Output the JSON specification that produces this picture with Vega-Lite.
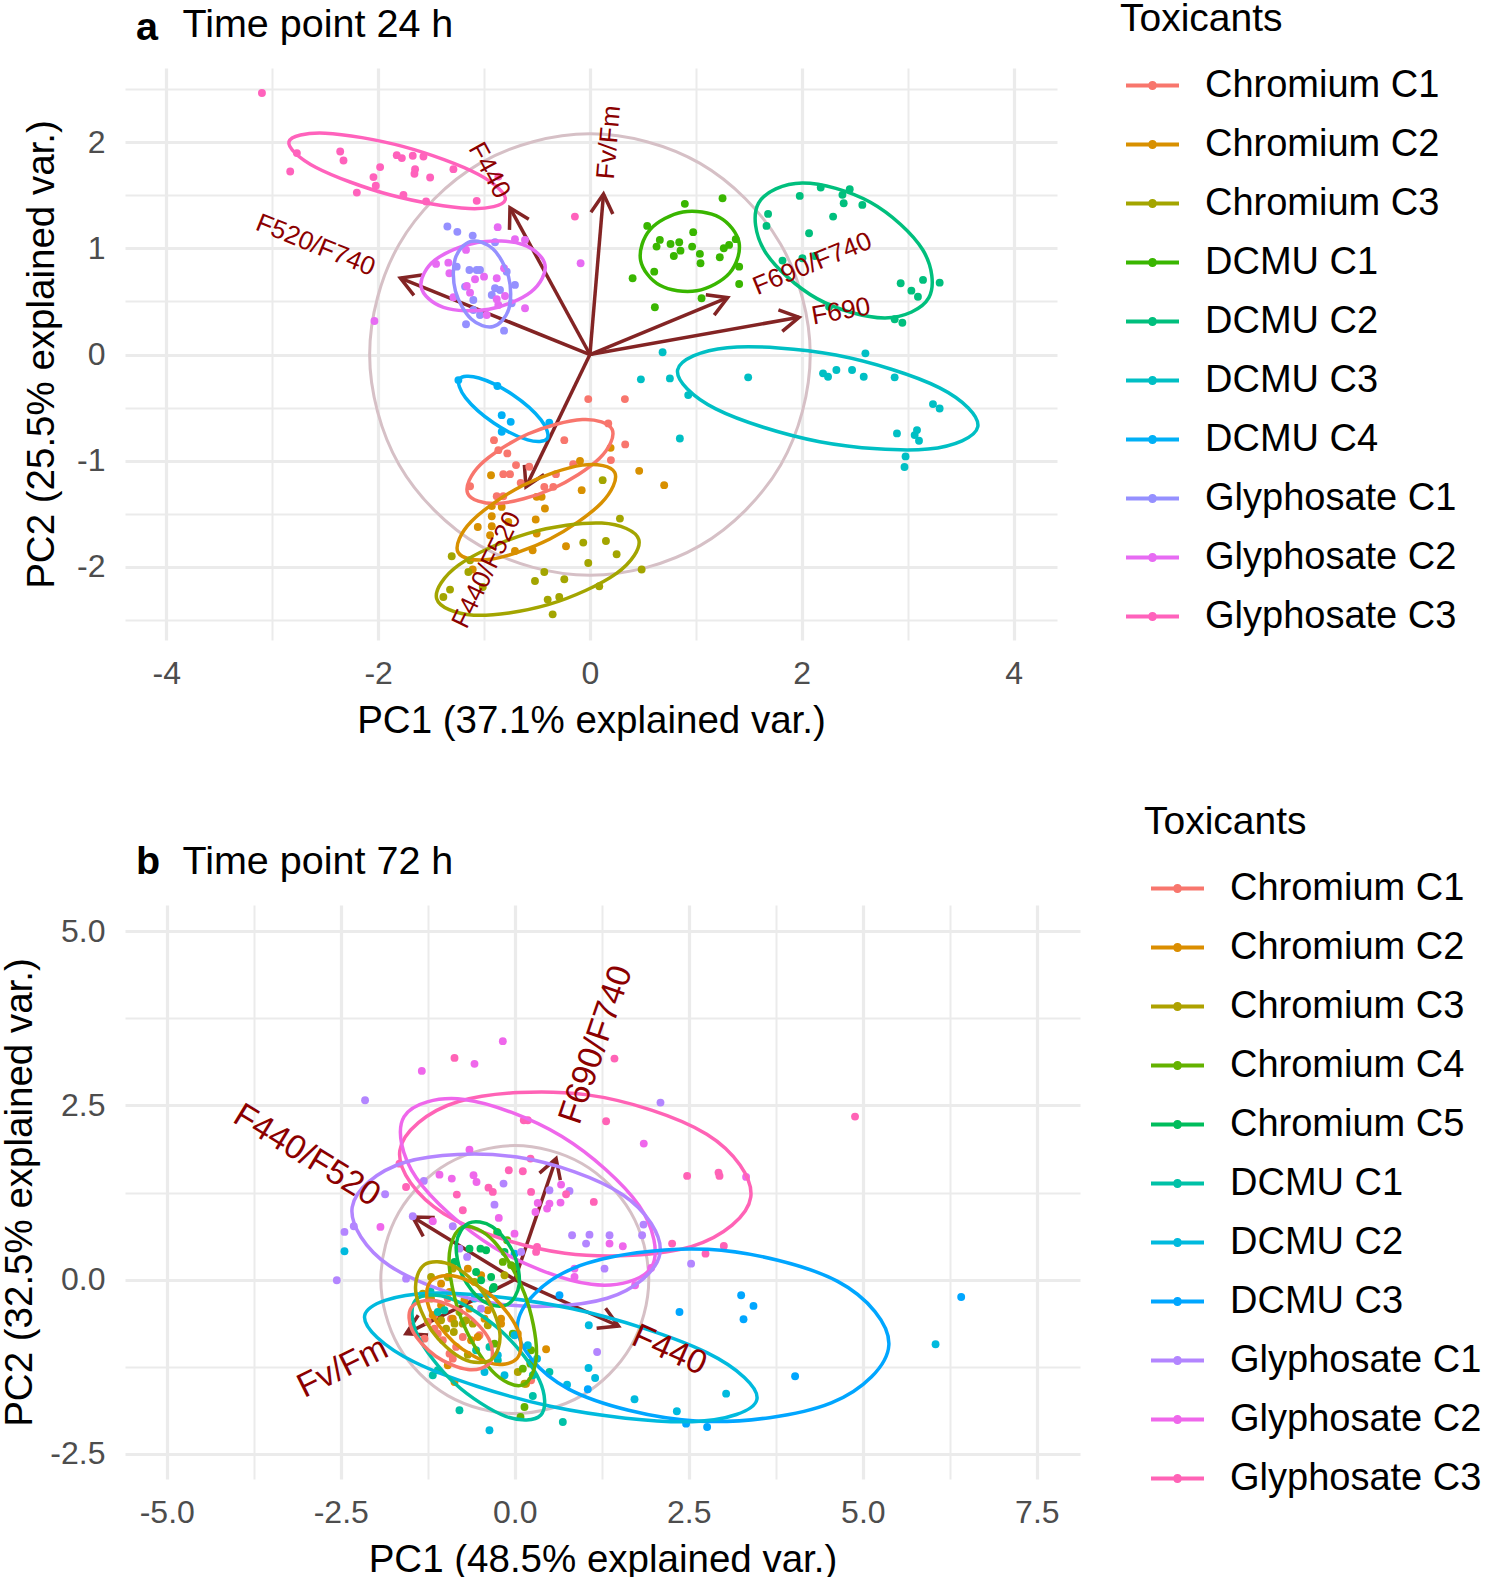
{
"$schema": "https://vega.github.io/schema/vega-lite/v6.json",
"padding": {"left": 0, "top": 0, "right": 0, "bottom": 0},
"background": "white",
"spacing": 63,
"resolve": {"scale": {"color": "independent"}, "legend": {"color": "independent"}},
"config": {
 "font": "Liberation Sans",
 "view": {"stroke": null},
 "axis": {"domain": false, "ticks": false, "grid": true, "gridColor": "#EBEBEB", "labelFontSize": 32, "labelColor": "#4D4D4D", "labelOverlap": false, "labelFlush": false, "labelBound": false, "titleFontSize": 38.5, "titleFontWeight": "normal", "titleColor": "#000000"},
 "axisX": {"labelPadding": 18, "titlePadding": 13},
 "axisY": {"labelPadding": 20},
 "title": {"anchor": "start", "frame": "group", "fontSize": 39.5, "fontWeight": "bold", "color": "#000000", "offset": -48, "dx": 11}
},
"datasets": {
 "pts_a": [
  {"g":"Chromium C1","x":-0.016,"y":-0.420},{"g":"Chromium C1","x":0.330,"y":-0.420},{"g":"Chromium C1","x":0.173,"y":-0.649},{"g":"Chromium C1","x":0.333,"y":-0.847},{"g":"Chromium C1","x":0.198,"y":-0.995},{"g":"Chromium C1","x":-0.242,"y":-0.807},{"g":"Chromium C1","x":-0.906,"y":-0.807},{"g":"Chromium C1","x":-0.865,"y":-0.901},{"g":"Chromium C1","x":-0.780,"y":-0.932},{"g":"Chromium C1","x":-0.698,"y":-1.042},{"g":"Chromium C1","x":-0.573,"y":-1.058},{"g":"Chromium C1","x":-0.818,"y":-1.127},{"g":"Chromium C1","x":-0.755,"y":-1.127},{"g":"Chromium C1","x":-0.654,"y":-1.209},{"g":"Chromium C1","x":-1.132,"y":-1.241},{"g":"Chromium C1","x":-0.321,"y":-1.127},{"g":"Chromium C1","x":-0.158,"y":-1.033},{"g":"Chromium C1","x":-0.431,"y":-1.247},{"g":"Chromium C1","x":-0.346,"y":-1.247},{"g":"Chromium C1","x":-0.880,"y":-1.335},{"g":"Chromium C1","x":-0.818,"y":-1.335},
  {"g":"Chromium C2","x":0.195,"y":-0.879},{"g":"Chromium C2","x":-0.094,"y":-1.002},{"g":"Chromium C2","x":0.465,"y":-1.096},{"g":"Chromium C2","x":0.701,"y":-1.231},{"g":"Chromium C2","x":-0.078,"y":-1.278},{"g":"Chromium C2","x":-0.934,"y":-1.137},{"g":"Chromium C2","x":-0.503,"y":-1.341},{"g":"Chromium C2","x":-0.456,"y":-1.341},{"g":"Chromium C2","x":-0.425,"y":-1.451},{"g":"Chromium C2","x":-0.927,"y":-1.429},{"g":"Chromium C2","x":-0.833,"y":-1.436},{"g":"Chromium C2","x":-0.927,"y":-1.524},{"g":"Chromium C2","x":-0.771,"y":-1.577},{"g":"Chromium C2","x":-0.512,"y":-1.555},{"g":"Chromium C2","x":-1.059,"y":-1.625},{"g":"Chromium C2","x":-0.927,"y":-1.618},{"g":"Chromium C2","x":-0.943,"y":-1.703},{"g":"Chromium C2","x":-0.503,"y":-1.687},{"g":"Chromium C2","x":-0.708,"y":-1.851},{"g":"Chromium C2","x":-0.541,"y":-1.844},{"g":"Chromium C2","x":-0.226,"y":-1.807},{"g":"Chromium C2","x":-1.107,"y":-2.026},
  {"g":"Chromium C3","x":0.120,"y":-1.184},{"g":"Chromium C3","x":0.283,"y":-1.546},{"g":"Chromium C3","x":-0.063,"y":-1.772},{"g":"Chromium C3","x":0.151,"y":-1.757},{"g":"Chromium C3","x":0.252,"y":-1.882},{"g":"Chromium C3","x":-0.016,"y":-1.964},{"g":"Chromium C3","x":0.488,"y":-2.026},{"g":"Chromium C3","x":-1.305,"y":-1.901},{"g":"Chromium C3","x":-1.132,"y":-1.939},{"g":"Chromium C3","x":-1.148,"y":-2.049},{"g":"Chromium C3","x":-1.012,"y":-2.191},{"g":"Chromium C3","x":-1.321,"y":-2.215},{"g":"Chromium C3","x":-1.384,"y":-2.285},{"g":"Chromium C3","x":-0.519,"y":-2.134},{"g":"Chromium C3","x":-0.431,"y":-2.049},{"g":"Chromium C3","x":-0.242,"y":-2.118},{"g":"Chromium C3","x":0.088,"y":-2.184},{"g":"Chromium C3","x":-0.399,"y":-2.309},{"g":"Chromium C3","x":-0.290,"y":-2.285},{"g":"Chromium C3","x":-0.352,"y":-2.448},
  {"g":"DCMU C1","x":0.896,"y":1.420},{"g":"DCMU C1","x":1.252,"y":1.473},{"g":"DCMU C1","x":0.541,"y":1.212},{"g":"DCMU C1","x":0.975,"y":1.153},{"g":"DCMU C1","x":0.660,"y":1.080},{"g":"DCMU C1","x":0.629,"y":1.017},{"g":"DCMU C1","x":0.761,"y":1.042},{"g":"DCMU C1","x":0.843,"y":1.058},{"g":"DCMU C1","x":0.855,"y":0.979},{"g":"DCMU C1","x":0.792,"y":0.929},{"g":"DCMU C1","x":0.965,"y":1.017},{"g":"DCMU C1","x":1.038,"y":0.948},{"g":"DCMU C1","x":1.044,"y":0.860},{"g":"DCMU C1","x":1.226,"y":0.917},{"g":"DCMU C1","x":1.264,"y":1.002},{"g":"DCMU C1","x":1.314,"y":1.033},{"g":"DCMU C1","x":1.377,"y":1.087},{"g":"DCMU C1","x":1.409,"y":0.828},{"g":"DCMU C1","x":1.409,"y":0.665},{"g":"DCMU C1","x":0.607,"y":0.781},{"g":"DCMU C1","x":0.403,"y":0.719},{"g":"DCMU C1","x":1.054,"y":0.530},{"g":"DCMU C1","x":0.613,"y":0.445},
  {"g":"DCMU C2","x":1.981,"y":1.495},{"g":"DCMU C2","x":2.179,"y":1.574},{"g":"DCMU C2","x":2.453,"y":1.558},{"g":"DCMU C2","x":2.384,"y":1.505},{"g":"DCMU C2","x":2.396,"y":1.426},{"g":"DCMU C2","x":2.572,"y":1.410},{"g":"DCMU C2","x":2.296,"y":1.300},{"g":"DCMU C2","x":1.682,"y":1.325},{"g":"DCMU C2","x":1.667,"y":1.212},{"g":"DCMU C2","x":2.069,"y":1.143},{"g":"DCMU C2","x":1.818,"y":0.885},{"g":"DCMU C2","x":2.006,"y":0.907},{"g":"DCMU C2","x":2.123,"y":0.929},{"g":"DCMU C2","x":2.258,"y":0.451},{"g":"DCMU C2","x":2.934,"y":0.672},{"g":"DCMU C2","x":3.035,"y":0.602},{"g":"DCMU C2","x":3.097,"y":0.545},{"g":"DCMU C2","x":3.145,"y":0.703},{"g":"DCMU C2","x":3.302,"y":0.677},{"g":"DCMU C2","x":2.877,"y":0.332},{"g":"DCMU C2","x":2.950,"y":0.300},
  {"g":"DCMU C3","x":0.686,"y":0.021},{"g":"DCMU C3","x":0.481,"y":-0.234},{"g":"DCMU C3","x":0.755,"y":-0.225},{"g":"DCMU C3","x":0.928,"y":-0.382},{"g":"DCMU C3","x":0.849,"y":-0.791},{"g":"DCMU C3","x":1.494,"y":-0.215},{"g":"DCMU C3","x":2.201,"y":-0.177},{"g":"DCMU C3","x":2.248,"y":-0.209},{"g":"DCMU C3","x":2.327,"y":-0.146},{"g":"DCMU C3","x":2.475,"y":-0.146},{"g":"DCMU C3","x":2.585,"y":-0.209},{"g":"DCMU C3","x":2.601,"y":0.011},{"g":"DCMU C3","x":2.877,"y":-0.215},{"g":"DCMU C3","x":3.239,"y":-0.467},{"g":"DCMU C3","x":3.302,"y":-0.508},{"g":"DCMU C3","x":2.899,"y":-0.743},{"g":"DCMU C3","x":3.066,"y":-0.759},{"g":"DCMU C3","x":3.088,"y":-0.712},{"g":"DCMU C3","x":3.107,"y":-0.813},{"g":"DCMU C3","x":2.980,"y":-0.960},{"g":"DCMU C3","x":2.970,"y":-1.060},
  {"g":"DCMU C4","x":-1.242,"y":-0.241},{"g":"DCMU C4","x":-0.874,"y":-0.297},{"g":"DCMU C4","x":-0.833,"y":-0.571},{"g":"DCMU C4","x":-0.748,"y":-0.634},{"g":"DCMU C4","x":-0.833,"y":-0.728},{"g":"DCMU C4","x":-0.384,"y":-0.643},
  {"g":"Glyphosate C1","x":-1.346,"y":1.206},{"g":"Glyphosate C1","x":-1.252,"y":1.156},{"g":"Glyphosate C1","x":-1.107,"y":1.121},{"g":"Glyphosate C1","x":-0.896,"y":1.058},{"g":"Glyphosate C1","x":-1.258,"y":0.828},{"g":"Glyphosate C1","x":-1.138,"y":0.797},{"g":"Glyphosate C1","x":-1.069,"y":0.797},{"g":"Glyphosate C1","x":-1.038,"y":0.797},{"g":"Glyphosate C1","x":-0.786,"y":0.781},{"g":"Glyphosate C1","x":-0.708,"y":0.656},{"g":"Glyphosate C1","x":-0.896,"y":0.625},{"g":"Glyphosate C1","x":-0.849,"y":0.608},{"g":"Glyphosate C1","x":-0.927,"y":0.561},{"g":"Glyphosate C1","x":-1.101,"y":0.514},{"g":"Glyphosate C1","x":-0.739,"y":0.483},{"g":"Glyphosate C1","x":-1.101,"y":0.420},{"g":"Glyphosate C1","x":-1.038,"y":0.373},{"g":"Glyphosate C1","x":-1.170,"y":0.285},{"g":"Glyphosate C1","x":-0.811,"y":0.225},{"g":"Glyphosate C1","x":-1.179,"y":0.640},
  {"g":"Glyphosate C2","x":-0.871,"y":1.200},{"g":"Glyphosate C2","x":-0.708,"y":1.087},{"g":"Glyphosate C2","x":-0.613,"y":1.080},{"g":"Glyphosate C2","x":-1.170,"y":0.986},{"g":"Glyphosate C2","x":-1.453,"y":0.854},{"g":"Glyphosate C2","x":-1.337,"y":0.866},{"g":"Glyphosate C2","x":-1.327,"y":0.766},{"g":"Glyphosate C2","x":-1.085,"y":0.709},{"g":"Glyphosate C2","x":-1.000,"y":0.734},{"g":"Glyphosate C2","x":-0.880,"y":0.719},{"g":"Glyphosate C2","x":-0.811,"y":0.813},{"g":"Glyphosate C2","x":-1.163,"y":0.646},{"g":"Glyphosate C2","x":-1.132,"y":0.583},{"g":"Glyphosate C2","x":-1.289,"y":0.540},{"g":"Glyphosate C2","x":-0.880,"y":0.521},{"g":"Glyphosate C2","x":-0.802,"y":0.552},{"g":"Glyphosate C2","x":-0.865,"y":0.467},{"g":"Glyphosate C2","x":-0.975,"y":0.373},{"g":"Glyphosate C2","x":-0.613,"y":0.436},{"g":"Glyphosate C2","x":-2.035,"y":0.316},{"g":"Glyphosate C2","x":-0.088,"y":0.860},
  {"g":"Glyphosate C3","x":-3.097,"y":2.464},{"g":"Glyphosate C3","x":-2.767,"y":1.898},{"g":"Glyphosate C3","x":-2.830,"y":1.725},{"g":"Glyphosate C3","x":-2.358,"y":1.913},{"g":"Glyphosate C3","x":-2.327,"y":1.828},{"g":"Glyphosate C3","x":-2.201,"y":1.526},{"g":"Glyphosate C3","x":-1.981,"y":1.766},{"g":"Glyphosate C3","x":-2.044,"y":1.672},{"g":"Glyphosate C3","x":-2.022,"y":1.590},{"g":"Glyphosate C3","x":-1.824,"y":1.879},{"g":"Glyphosate C3","x":-1.776,"y":1.851},{"g":"Glyphosate C3","x":-1.673,"y":1.873},{"g":"Glyphosate C3","x":-1.572,"y":1.866},{"g":"Glyphosate C3","x":-1.651,"y":1.747},{"g":"Glyphosate C3","x":-1.657,"y":1.703},{"g":"Glyphosate C3","x":-1.509,"y":1.668},{"g":"Glyphosate C3","x":-1.761,"y":1.505},{"g":"Glyphosate C3","x":-1.547,"y":1.442},{"g":"Glyphosate C3","x":-1.289,"y":1.747},{"g":"Glyphosate C3","x":-1.069,"y":1.448},{"g":"Glyphosate C3","x":-0.865,"y":1.677},{"g":"Glyphosate C3","x":-0.142,"y":1.300}
 ],
 "ell_a": [
  {"g":"Glyphosate C3","i":0,"x":-0.800,"y":1.457},{"g":"Glyphosate C3","i":1,"x":-1.056,"y":1.699},{"g":"Glyphosate C3","i":2,"x":-1.760,"y":1.959},{"g":"Glyphosate C3","i":3,"x":-2.500,"y":2.086},{"g":"Glyphosate C3","i":4,"x":-2.842,"y":2.005},{"g":"Glyphosate C3","i":5,"x":-2.586,"y":1.763},{"g":"Glyphosate C3","i":6,"x":-1.882,"y":1.503},{"g":"Glyphosate C3","i":7,"x":-1.142,"y":1.376},
  {"g":"Glyphosate C2","i":0,"x":-0.424,"y":0.844},{"g":"Glyphosate C2","i":1,"x":-0.635,"y":1.037},{"g":"Glyphosate C2","i":2,"x":-1.065,"y":1.056},{"g":"Glyphosate C2","i":3,"x":-1.462,"y":0.891},{"g":"Glyphosate C2","i":4,"x":-1.594,"y":0.638},{"g":"Glyphosate C2","i":5,"x":-1.383,"y":0.445},{"g":"Glyphosate C2","i":6,"x":-0.953,"y":0.426},{"g":"Glyphosate C2","i":7,"x":-0.556,"y":0.591},
  {"g":"Glyphosate C1","i":0,"x":-1.126,"y":1.066},{"g":"Glyphosate C1","i":1,"x":-1.273,"y":0.901},{"g":"Glyphosate C1","i":2,"x":-1.270,"y":0.598},{"g":"Glyphosate C1","i":3,"x":-1.121,"y":0.334},{"g":"Glyphosate C1","i":4,"x":-0.912,"y":0.264},{"g":"Glyphosate C1","i":5,"x":-0.766,"y":0.429},{"g":"Glyphosate C1","i":6,"x":-0.768,"y":0.732},{"g":"Glyphosate C1","i":7,"x":-0.917,"y":0.996},
  {"g":"DCMU C1","i":0,"x":1.408,"y":1.054},{"g":"DCMU C1","i":1,"x":1.225,"y":1.292},{"g":"DCMU C1","i":2,"x":0.878,"y":1.343},{"g":"DCMU C1","i":3,"x":0.568,"y":1.177},{"g":"DCMU C1","i":4,"x":0.478,"y":0.890},{"g":"DCMU C1","i":5,"x":0.661,"y":0.652},{"g":"DCMU C1","i":6,"x":1.008,"y":0.601},{"g":"DCMU C1","i":7,"x":1.318,"y":0.767},
  {"g":"DCMU C2","i":0,"x":3.200,"y":0.536},{"g":"DCMU C2","i":1,"x":3.142,"y":0.987},{"g":"DCMU C2","i":2,"x":2.648,"y":1.435},{"g":"DCMU C2","i":3,"x":2.006,"y":1.617},{"g":"DCMU C2","i":4,"x":1.592,"y":1.427},{"g":"DCMU C2","i":5,"x":1.650,"y":0.975},{"g":"DCMU C2","i":6,"x":2.144,"y":0.527},{"g":"DCMU C2","i":7,"x":2.787,"y":0.345},
  {"g":"DCMU C3","i":0,"x":3.662,"y":-0.681},{"g":"DCMU C3","i":1,"x":3.302,"y":-0.314},{"g":"DCMU C3","i":2,"x":2.322,"y":-0.005},{"g":"DCMU C3","i":3,"x":1.297,"y":0.065},{"g":"DCMU C3","i":4,"x":0.828,"y":-0.145},{"g":"DCMU C3","i":5,"x":1.188,"y":-0.512},{"g":"DCMU C3","i":6,"x":2.168,"y":-0.821},{"g":"DCMU C3","i":7,"x":3.193,"y":-0.891},
  {"g":"DCMU C4","i":0,"x":-0.404,"y":-0.792},{"g":"DCMU C4","i":1,"x":-0.462,"y":-0.616},{"g":"DCMU C4","i":2,"x":-0.729,"y":-0.379},{"g":"DCMU C4","i":3,"x":-1.048,"y":-0.221},{"g":"DCMU C4","i":4,"x":-1.233,"y":-0.232},{"g":"DCMU C4","i":5,"x":-1.174,"y":-0.408},{"g":"DCMU C4","i":6,"x":-0.908,"y":-0.645},{"g":"DCMU C4","i":7,"x":-0.588,"y":-0.804},
  {"g":"Chromium C1","i":0,"x":0.210,"y":-0.707},{"g":"Chromium C1","i":1,"x":-0.071,"y":-0.612},{"g":"Chromium C1","i":2,"x":-0.586,"y":-0.749},{"g":"Chromium C1","i":3,"x":-1.035,"y":-1.038},{"g":"Chromium C1","i":4,"x":-1.154,"y":-1.309},{"g":"Chromium C1","i":5,"x":-0.873,"y":-1.404},{"g":"Chromium C1","i":6,"x":-0.358,"y":-1.267},{"g":"Chromium C1","i":7,"x":0.091,"y":-0.978},
  {"g":"Chromium C2","i":0,"x":0.234,"y":-1.111},{"g":"Chromium C2","i":1,"x":-0.073,"y":-1.042},{"g":"Chromium C2","i":2,"x":-0.634,"y":-1.234},{"g":"Chromium C2","i":3,"x":-1.120,"y":-1.573},{"g":"Chromium C2","i":4,"x":-1.246,"y":-1.862},{"g":"Chromium C2","i":5,"x":-0.939,"y":-1.930},{"g":"Chromium C2","i":6,"x":-0.378,"y":-1.738},{"g":"Chromium C2","i":7,"x":0.108,"y":-1.399},
  {"g":"Chromium C3","i":0,"x":0.461,"y":-1.743},{"g":"Chromium C3","i":1,"x":0.112,"y":-1.588},{"g":"Chromium C3","i":2,"x":-0.591,"y":-1.687},{"g":"Chromium C3","i":3,"x":-1.237,"y":-1.982},{"g":"Chromium C3","i":4,"x":-1.447,"y":-2.301},{"g":"Chromium C3","i":5,"x":-1.098,"y":-2.456},{"g":"Chromium C3","i":6,"x":-0.395,"y":-2.357},{"g":"Chromium C3","i":7,"x":0.251,"y":-2.062}
 ],
 "circ_a": [
  {"i":0,"x":2.08,"y":0},{"i":1,"x":1.801,"y":1.04},{"i":2,"x":1.04,"y":1.801},{"i":3,"x":0,"y":2.08},{"i":4,"x":-1.04,"y":1.801},{"i":5,"x":-1.801,"y":1.04},{"i":6,"x":-2.08,"y":0},{"i":7,"x":-1.801,"y":-1.04},{"i":8,"x":-1.04,"y":-1.801},{"i":9,"x":0,"y":-2.08},{"i":10,"x":1.04,"y":-1.801},{"i":11,"x":1.801,"y":-1.04}
 ],
 "arr_a": [
  {"v":"Fv/Fm","x":0.128,"y":1.512,"lx":0.18,"ly":2.0},
  {"v":"F440","x":-0.755,"y":1.382,"lx":-0.95,"ly":1.735},
  {"v":"F520/F740","x":-1.79,"y":0.72,"lx":-2.59,"ly":1.03},
  {"v":"F690/F740","x":1.30,"y":0.536,"lx":2.10,"ly":0.855},
  {"v":"F690","x":1.975,"y":0.351,"lx":2.37,"ly":0.405},
  {"v":"F440/F520","x":-0.604,"y":-1.247,"lx":-0.975,"ly":-2.03}
 ],
 "pts_b": [
  {"g":"Chromium C1","x":-1.154,"y":-0.513},{"g":"Chromium C1","x":-1.106,"y":-0.777},{"g":"Chromium C1","x":-0.963,"y":-0.274},{"g":"Chromium C1","x":-0.915,"y":-0.562},{"g":"Chromium C1","x":-1.034,"y":-0.872},{"g":"Chromium C1","x":-1.297,"y":-0.849},{"g":"Chromium C1","x":-0.938,"y":-1.065},{"g":"Chromium C1","x":-0.891,"y":-1.136},{"g":"Chromium C1","x":-0.747,"y":-0.825},{"g":"Chromium C1","x":-0.507,"y":-0.800},{"g":"Chromium C1","x":0.234,"y":-1.447},{"g":"Chromium C1","x":-0.843,"y":-0.968},{"g":"Chromium C1","x":-1.154,"y":-0.705},{"g":"Chromium C1","x":-1.250,"y":-0.609},
  {"g":"Chromium C2","x":-0.675,"y":0.157},{"g":"Chromium C2","x":-0.484,"y":0.062},{"g":"Chromium C2","x":-0.723,"y":-0.297},{"g":"Chromium C2","x":-0.938,"y":-0.178},{"g":"Chromium C2","x":-1.178,"y":-0.513},{"g":"Chromium C2","x":-0.435,"y":-0.562},{"g":"Chromium C2","x":-0.197,"y":-0.562},{"g":"Chromium C2","x":-0.197,"y":-0.634},{"g":"Chromium C2","x":-0.628,"y":-0.872},{"g":"Chromium C2","x":-0.532,"y":-0.825},{"g":"Chromium C2","x":0.043,"y":-0.777},{"g":"Chromium C2","x":-0.963,"y":-1.231},{"g":"Chromium C2","x":-0.866,"y":-1.471},{"g":"Chromium C2","x":0.162,"y":-1.496},{"g":"Chromium C2","x":0.450,"y":-1.002},{"g":"Chromium C2","x":-0.388,"y":-0.441},{"g":"Chromium C2","x":-0.651,"y":-0.418},{"g":"Chromium C2","x":-1.059,"y":-0.369},{"g":"Chromium C2","x":-0.891,"y":-0.562},{"g":"Chromium C2","x":-1.059,"y":-0.059},
  {"g":"Chromium C3","x":-1.322,"y":-0.203},{"g":"Chromium C3","x":-1.203,"y":-0.274},{"g":"Chromium C3","x":-0.891,"y":0.157},{"g":"Chromium C3","x":-0.963,"y":0.037},{"g":"Chromium C3","x":-0.579,"y":-0.034},{"g":"Chromium C3","x":-0.148,"y":0.062},{"g":"Chromium C3","x":-1.059,"y":-0.585},{"g":"Chromium C3","x":-0.987,"y":-0.705},{"g":"Chromium C3","x":-0.866,"y":-0.634},{"g":"Chromium C3","x":-0.747,"y":-0.634},{"g":"Chromium C3","x":-0.700,"y":-0.585},{"g":"Chromium C3","x":-0.795,"y":-0.466},{"g":"Chromium C3","x":-0.603,"y":-0.634},{"g":"Chromium C3","x":-0.388,"y":-0.657},{"g":"Chromium C3","x":-0.876,"y":-0.753},{"g":"Chromium C3","x":-0.675,"y":-1.079},{"g":"Chromium C3","x":0.043,"y":-1.328},{"g":"Chromium C3","x":0.225,"y":-1.194},{"g":"Chromium C3","x":0.139,"y":-1.496},{"g":"Chromium C3","x":-1.203,"y":0.037},
  {"g":"Chromium C4","x":-0.254,"y":0.684},{"g":"Chromium C4","x":-0.111,"y":0.565},{"g":"Chromium C4","x":-0.004,"y":0.181},{"g":"Chromium C4","x":-0.172,"y":0.253},{"g":"Chromium C4","x":-0.053,"y":0.205},{"g":"Chromium C4","x":0.234,"y":-1.016},{"g":"Chromium C4","x":0.115,"y":-1.280},{"g":"Chromium C4","x":0.139,"y":-1.830},{"g":"Chromium C4","x":0.082,"y":-1.974},{"g":"Chromium C4","x":-0.292,"y":-0.921},{"g":"Chromium C4","x":-0.029,"y":-0.777},{"g":"Chromium C4","x":0.225,"y":-1.208},
  {"g":"Chromium C5","x":-0.493,"y":0.444},{"g":"Chromium C5","x":-0.412,"y":0.421},{"g":"Chromium C5","x":-0.244,"y":0.670},{"g":"Chromium C5","x":-0.866,"y":0.253},{"g":"Chromium C5","x":-0.340,"y":0.037},{"g":"Chromium C5","x":-0.316,"y":-0.131},{"g":"Chromium C5","x":-0.556,"y":0.109},{"g":"Chromium C5","x":-0.651,"y":0.444},{"g":"Chromium C5","x":-0.484,"y":-0.010},{"g":"Chromium C5","x":-0.148,"y":0.397},{"g":"Chromium C5","x":-0.302,"y":-0.106},
  {"g":"DCMU C1","x":-1.178,"y":-1.375},{"g":"DCMU C1","x":-1.106,"y":-1.303},{"g":"DCMU C1","x":-0.795,"y":-1.878},{"g":"DCMU C1","x":0.259,"y":-1.672},{"g":"DCMU C1","x":0.498,"y":-1.328},{"g":"DCMU C1","x":0.690,"y":-2.046},{"g":"DCMU C1","x":-0.556,"y":-1.016},{"g":"DCMU C1","x":-0.364,"y":-0.968},{"g":"DCMU C1","x":-1.106,"y":-0.466},{"g":"DCMU C1","x":-1.211,"y":-0.168},{"g":"DCMU C1","x":-1.010,"y":-0.441},{"g":"DCMU C1","x":-0.244,"y":-1.159},{"g":"DCMU C1","x":0.259,"y":-1.375},
  {"g":"DCMU C2","x":1.063,"y":-0.657},{"g":"DCMU C2","x":1.059,"y":-1.270},{"g":"DCMU C2","x":1.154,"y":-1.414},{"g":"DCMU C2","x":0.751,"y":-1.510},{"g":"DCMU C2","x":1.720,"y":-1.720},{"g":"DCMU C2","x":2.328,"y":-1.892},{"g":"DCMU C2","x":3.036,"y":-1.639},{"g":"DCMU C2","x":6.045,"y":-0.930},{"g":"DCMU C2","x":0.320,"y":-1.136},{"g":"DCMU C2","x":0.187,"y":-0.944},{"g":"DCMU C2","x":-0.148,"y":-1.375},{"g":"DCMU C2","x":-2.447,"y":0.407},{"g":"DCMU C2","x":-0.244,"y":-1.088},{"g":"DCMU C2","x":-0.435,"y":-1.328},{"g":"DCMU C2","x":-0.364,"y":-2.165},{"g":"DCMU C2","x":-0.579,"y":-0.274},{"g":"DCMU C2","x":-0.004,"y":-0.800},
  {"g":"DCMU C3","x":3.252,"y":-0.226},{"g":"DCMU C3","x":3.429,"y":-0.379},{"g":"DCMU C3","x":3.286,"y":-0.570},{"g":"DCMU C3","x":2.366,"y":-0.466},{"g":"DCMU C3","x":6.413,"y":-0.250},{"g":"DCMU C3","x":4.027,"y":-1.389},{"g":"DCMU C3","x":2.461,"y":-2.070},{"g":"DCMU C3","x":2.763,"y":-2.118},{"g":"DCMU C3","x":1.049,"y":-1.576},{"g":"DCMU C3","x":0.642,"y":-0.226},{"g":"DCMU C3","x":-0.004,"y":0.372},
  {"g":"Glyphosate C1","x":-2.151,"y":2.576},{"g":"Glyphosate C1","x":2.093,"y":2.542},{"g":"Glyphosate C1","x":-0.162,"y":1.378},{"g":"Glyphosate C1","x":0.498,"y":1.283},{"g":"Glyphosate C1","x":0.786,"y":1.273},{"g":"Glyphosate C1","x":-0.292,"y":1.076},{"g":"Glyphosate C1","x":-1.307,"y":1.417},{"g":"Glyphosate C1","x":-1.863,"y":1.225},{"g":"Glyphosate C1","x":-1.466,"y":0.909},{"g":"Glyphosate C1","x":-2.313,"y":0.766},{"g":"Glyphosate C1","x":-2.447,"y":0.684},{"g":"Glyphosate C1","x":-0.891,"y":0.766},{"g":"Glyphosate C1","x":0.823,"y":0.636},{"g":"Glyphosate C1","x":1.073,"y":0.645},{"g":"Glyphosate C1","x":1.024,"y":0.516},{"g":"Glyphosate C1","x":1.361,"y":0.636},{"g":"Glyphosate C1","x":1.849,"y":0.789},{"g":"Glyphosate C1","x":1.829,"y":0.636},{"g":"Glyphosate C1","x":-0.795,"y":0.444},{"g":"Glyphosate C1","x":-0.685,"y":0.325},{"g":"Glyphosate C1","x":0.091,"y":0.397},{"g":"Glyphosate C1","x":1.289,"y":0.157},{"g":"Glyphosate C1","x":2.533,"y":0.228},{"g":"Glyphosate C1","x":-1.562,"y":0.013},{"g":"Glyphosate C1","x":-2.557,"y":-0.010},{"g":"Glyphosate C1","x":1.183,"y":-1.040},{"g":"Glyphosate C1","x":-0.484,"y":-0.418},
  {"g":"Glyphosate C2","x":-0.172,"y":3.424},{"g":"Glyphosate C2","x":-0.579,"y":3.098},{"g":"Glyphosate C2","x":-1.336,"y":2.997},{"g":"Glyphosate C2","x":1.853,"y":1.953},{"g":"Glyphosate C2","x":-0.651,"y":1.866},{"g":"Glyphosate C2","x":3.323,"y":1.474},{"g":"Glyphosate C2","x":-1.082,"y":1.507},{"g":"Glyphosate C2","x":-0.905,"y":1.450},{"g":"Glyphosate C2","x":-0.593,"y":1.499},{"g":"Glyphosate C2","x":-0.550,"y":1.402},{"g":"Glyphosate C2","x":0.665,"y":1.364},{"g":"Glyphosate C2","x":0.330,"y":1.101},{"g":"Glyphosate C2","x":0.498,"y":1.091},{"g":"Glyphosate C2","x":0.297,"y":0.971},{"g":"Glyphosate C2","x":0.464,"y":1.019},{"g":"Glyphosate C2","x":0.657,"y":1.105},{"g":"Glyphosate C2","x":-0.230,"y":0.885},{"g":"Glyphosate C2","x":-1.178,"y":0.838},{"g":"Glyphosate C2","x":-1.930,"y":0.756},{"g":"Glyphosate C2","x":-0.004,"y":0.659},{"g":"Glyphosate C2","x":1.361,"y":0.516},{"g":"Glyphosate C2","x":1.552,"y":0.478},{"g":"Glyphosate C2","x":0.858,"y":0.157},{"g":"Glyphosate C2","x":0.858,"y":0.037},{"g":"Glyphosate C2","x":1.958,"y":0.167},{"g":"Glyphosate C2","x":1.728,"y":-0.082},
  {"g":"Glyphosate C3","x":-0.866,"y":3.184},{"g":"Glyphosate C3","x":1.432,"y":3.174},{"g":"Glyphosate C3","x":0.129,"y":2.289},{"g":"Glyphosate C3","x":0.187,"y":2.289},{"g":"Glyphosate C3","x":1.312,"y":2.274},{"g":"Glyphosate C3","x":0.226,"y":1.737},{"g":"Glyphosate C3","x":2.476,"y":1.489},{"g":"Glyphosate C3","x":2.927,"y":1.536},{"g":"Glyphosate C3","x":2.941,"y":1.489},{"g":"Glyphosate C3","x":-0.086,"y":1.570},{"g":"Glyphosate C3","x":0.115,"y":1.556},{"g":"Glyphosate C3","x":-0.378,"y":1.320},{"g":"Glyphosate C3","x":-0.316,"y":1.259},{"g":"Glyphosate C3","x":-0.833,"y":1.220},{"g":"Glyphosate C3","x":0.234,"y":1.259},{"g":"Glyphosate C3","x":0.737,"y":1.225},{"g":"Glyphosate C3","x":1.135,"y":1.115},{"g":"Glyphosate C3","x":-0.747,"y":0.996},{"g":"Glyphosate C3","x":0.320,"y":0.468},{"g":"Glyphosate C3","x":0.306,"y":0.397},{"g":"Glyphosate C3","x":2.260,"y":0.516},{"g":"Glyphosate C3","x":2.740,"y":0.372},{"g":"Glyphosate C3","x":3.003,"y":0.483},{"g":"Glyphosate C3","x":-1.562,"y":1.330},{"g":"Glyphosate C3","x":-1.657,"y":1.665},{"g":"Glyphosate C3","x":4.888,"y":2.341}
 ],
 "ell_b": [
  {"g":"Glyphosate C3","i":0,"x":3.390,"y":1.185},{"g":"Glyphosate C3","i":1,"x":2.758,"y":2.088},{"g":"Glyphosate C3","i":2,"x":1.019,"y":2.656},{"g":"Glyphosate C3","i":3,"x":-0.808,"y":2.557},{"g":"Glyphosate C3","i":4,"x":-1.652,"y":1.849},{"g":"Glyphosate C3","i":5,"x":-1.020,"y":0.946},{"g":"Glyphosate C3","i":6,"x":0.719,"y":0.378},{"g":"Glyphosate C3","i":7,"x":2.546,"y":0.477},
  {"g":"Glyphosate C2","i":0,"x":1.964,"y":0.178},{"g":"Glyphosate C2","i":1,"x":1.787,"y":1.059},{"g":"Glyphosate C2","i":2,"x":0.672,"y":2.057},{"g":"Glyphosate C2","i":3,"x":-0.727,"y":2.587},{"g":"Glyphosate C2","i":4,"x":-1.590,"y":2.340},{"g":"Glyphosate C2","i":5,"x":-1.413,"y":1.459},{"g":"Glyphosate C2","i":6,"x":-0.298,"y":0.461},{"g":"Glyphosate C2","i":7,"x":1.101,"y":-0.069},
  {"g":"Glyphosate C1","i":0,"x":2.086,"y":0.378},{"g":"Glyphosate C1","i":1,"x":1.550,"y":1.218},{"g":"Glyphosate C1","i":2,"x":0.032,"y":1.759},{"g":"Glyphosate C1","i":3,"x":-1.577,"y":1.685},{"g":"Glyphosate C1","i":4,"x":-2.336,"y":1.039},{"g":"Glyphosate C1","i":5,"x":-1.800,"y":0.198},{"g":"Glyphosate C1","i":6,"x":-0.282,"y":-0.343},{"g":"Glyphosate C1","i":7,"x":1.327,"y":-0.269},
  {"g":"DCMU C3","i":0,"x":5.374,"y":-0.940},{"g":"DCMU C3","i":1,"x":4.638,"y":-0.026},{"g":"DCMU C3","i":2,"x":2.771,"y":0.434},{"g":"DCMU C3","i":3,"x":0.865,"y":0.172},{"g":"DCMU C3","i":4,"x":0.038,"y":-0.660},{"g":"DCMU C3","i":5,"x":0.774,"y":-1.574},{"g":"DCMU C3","i":6,"x":2.641,"y":-2.034},{"g":"DCMU C3","i":7,"x":4.547,"y":-1.772},
  {"g":"DCMU C2","i":0,"x":3.478,"y":-1.723},{"g":"DCMU C2","i":1,"x":2.759,"y":-1.050},{"g":"DCMU C2","i":2,"x":0.812,"y":-0.417},{"g":"DCMU C2","i":3,"x":-1.225,"y":-0.196},{"g":"DCMU C2","i":4,"x":-2.156,"y":-0.515},{"g":"DCMU C2","i":5,"x":-1.437,"y":-1.188},{"g":"DCMU C2","i":6,"x":0.511,"y":-1.821},{"g":"DCMU C2","i":7,"x":2.547,"y":-2.042},
  {"g":"DCMU C1","i":0,"x":0.375,"y":-1.946},{"g":"DCMU C1","i":1,"x":0.352,"y":-1.442},{"g":"DCMU C1","i":2,"x":-0.184,"y":-0.749},{"g":"DCMU C1","i":3,"x":-0.919,"y":-0.273},{"g":"DCMU C1","i":4,"x":-1.423,"y":-0.293},{"g":"DCMU C1","i":5,"x":-1.400,"y":-0.796},{"g":"DCMU C1","i":6,"x":-0.865,"y":-1.489},{"g":"DCMU C1","i":7,"x":-0.130,"y":-1.965},
  {"g":"Chromium C4","i":0,"x":0.115,"y":-1.514},{"g":"Chromium C4","i":1,"x":0.312,"y":-1.059},{"g":"Chromium C4","i":2,"x":0.141,"y":-0.205},{"g":"Chromium C4","i":3,"x":-0.298,"y":0.546},{"g":"Chromium C4","i":4,"x":-0.747,"y":0.756},{"g":"Chromium C4","i":5,"x":-0.944,"y":0.301},{"g":"Chromium C4","i":6,"x":-0.773,"y":-0.553},{"g":"Chromium C4","i":7,"x":-0.334,"y":-1.304},
  {"g":"Chromium C5","i":0,"x":-0.115,"y":-0.362},{"g":"Chromium C5","i":1,"x":0.063,"y":-0.071},{"g":"Chromium C5","i":2,"x":-0.024,"y":0.394},{"g":"Chromium C5","i":3,"x":-0.324,"y":0.759},{"g":"Chromium C5","i":4,"x":-0.661,"y":0.810},{"g":"Chromium C5","i":5,"x":-0.839,"y":0.519},{"g":"Chromium C5","i":6,"x":-0.752,"y":0.054},{"g":"Chromium C5","i":7,"x":-0.452,"y":-0.311},
  {"g":"Chromium C2","i":0,"x":0.030,"y":-1.137},{"g":"Chromium C2","i":1,"x":0.053,"y":-0.748},{"g":"Chromium C2","i":2,"x":-0.301,"y":-0.260},{"g":"Chromium C2","i":3,"x":-0.823,"y":0.041},{"g":"Chromium C2","i":4,"x":-1.208,"y":-0.023},{"g":"Chromium C2","i":5,"x":-1.231,"y":-0.412},{"g":"Chromium C2","i":6,"x":-0.877,"y":-0.900},{"g":"Chromium C2","i":7,"x":-0.355,"y":-1.201},
  {"g":"Chromium C1","i":0,"x":-0.355,"y":-1.192},{"g":"Chromium C1","i":1,"x":-0.369,"y":-0.859},{"g":"Chromium C1","i":2,"x":-0.706,"y":-0.490},{"g":"Chromium C1","i":3,"x":-1.168,"y":-0.300},{"g":"Chromium C1","i":4,"x":-1.485,"y":-0.400},{"g":"Chromium C1","i":5,"x":-1.471,"y":-0.733},{"g":"Chromium C1","i":6,"x":-1.135,"y":-1.102},{"g":"Chromium C1","i":7,"x":-0.672,"y":-1.293},
  {"g":"Chromium C3","i":0,"x":-0.341,"y":-1.150},{"g":"Chromium C3","i":1,"x":-0.215,"y":-0.764},{"g":"Chromium C3","i":2,"x":-0.442,"y":-0.204},{"g":"Chromium C3","i":3,"x":-0.890,"y":0.201},{"g":"Chromium C3","i":4,"x":-1.297,"y":0.214},{"g":"Chromium C3","i":5,"x":-1.423,"y":-0.172},{"g":"Chromium C3","i":6,"x":-1.196,"y":-0.732},{"g":"Chromium C3","i":7,"x":-0.748,"y":-1.137}
 ],
 "circ_b": [
  {"i":0,"x":1.925,"y":0},{"i":1,"x":1.667,"y":0.963},{"i":2,"x":0.963,"y":1.667},{"i":3,"x":0,"y":1.925},{"i":4,"x":-0.963,"y":1.667},{"i":5,"x":-1.667,"y":0.963},{"i":6,"x":-1.925,"y":0},{"i":7,"x":-1.667,"y":-0.963},{"i":8,"x":-0.963,"y":-1.667},{"i":9,"x":0,"y":-1.925},{"i":10,"x":0.963,"y":-1.667},{"i":11,"x":1.667,"y":-0.963}
 ],
 "arr_b": [
  {"v":"F690/F740","x":0.593,"y":1.737,"lx":1.17,"ly":3.37},
  {"v":"F440/F520","x":-1.466,"y":0.899,"lx":-2.99,"ly":1.78},
  {"v":"F440","x":1.49,"y":-0.667,"lx":2.22,"ly":-1.02},
  {"v":"Fv/Fm","x":-1.562,"y":-0.777,"lx":-2.47,"ly":-1.27}
 ]
},
"vconcat": [
 {
  "width": 932, "height": 572,
  "title": {"text": "a"},
  "resolve": {"axis": {"x": "independent"}},
  "layer": [
   {
    "data": {"name": "circ_a"},
    "mark": {"type": "line", "interpolate": "cardinal-closed", "color": "#D6C0C6", "strokeWidth": 3},
    "encoding": {
     "x": {"field": "x", "type": "quantitative", "scale": {"domain": [-4.39, 4.41], "nice": false, "zero": false},
       "axis": {"title": "PC1 (37.1% explained var.)", "values": [-4,-3,-2,-1,0,1,2,3,4], "labelExpr": "datum.value % 2 === 0 ? (datum.value < 0 ? '-' + abs(datum.value) : '' + datum.value) : ''", "gridWidth": {"condition": {"test": "datum.value % 2 === 0", "value": 3.2}, "value": 2}}},
     "y": {"field": "y", "type": "quantitative", "scale": {"domain": [-2.69, 2.70], "nice": false, "zero": false},
       "axis": {"title": "PC2 (25.5% explained var.)", "titlePadding": 15, "values": [-2.5,-2,-1.5,-1,-0.5,0,0.5,1,1.5,2,2.5], "labelExpr": "datum.value % 1 === 0 ? (datum.value < 0 ? '-' + abs(datum.value) : '' + datum.value) : ''", "gridWidth": {"condition": {"test": "datum.value % 1 === 0", "value": 3.2}, "value": 2}}},
     "order": {"field": "i", "type": "quantitative"}
    }
   },
   {
    "data": {"name": "arr_a"},
    "mark": {"type": "rule", "color": "#832424", "strokeWidth": 3.5},
    "encoding": {
     "x": {"field": "x", "type": "quantitative", "scale": {"domain": [-4.39, 4.41], "nice": false, "zero": false}, "axis": null},
     "y": {"field": "y", "type": "quantitative", "scale": {"domain": [-2.69, 2.70], "nice": false, "zero": false}},
     "x2": {"datum": 0},
     "y2": {"datum": 0}
    }
   },
   {
    "data": {"name": "arr_a"},
    "transform": [{"calculate": "atan2(datum.x, datum.y) * 180 / PI", "as": "ha"}],
    "mark": {"type": "point", "shape": "M-0.5,0.866L0,0L0.5,0.866", "filled": false, "size": 1936, "stroke": "#832424", "strokeWidth": 3.5, "opacity": 1},
    "encoding": {
     "x": {"field": "x", "type": "quantitative", "scale": {"domain": [-4.39, 4.41], "nice": false, "zero": false}, "axis": null},
     "y": {"field": "y", "type": "quantitative", "scale": {"domain": [-2.69, 2.70], "nice": false, "zero": false}},
     "angle": {"field": "ha", "type": "quantitative", "scale": null}
    }
   },
   {
    "data": {"name": "pts_a"},
    "mark": {"type": "point", "filled": true, "size": 62, "opacity": 1, "strokeWidth": 0},
    "encoding": {
     "x": {"field": "x", "type": "quantitative", "scale": {"domain": [-4.39, 4.41], "nice": false, "zero": false}, "axis": null},
     "y": {"field": "y", "type": "quantitative", "scale": {"domain": [-2.69, 2.70], "nice": false, "zero": false}},
     "color": {"field": "g", "type": "nominal",
       "scale": {"domain": ["Chromium C1","Chromium C2","Chromium C3","DCMU C1","DCMU C2","DCMU C3","DCMU C4","Glyphosate C1","Glyphosate C2","Glyphosate C3"], "range": ["#F8766D","#D89000","#A3A500","#39B600","#00BF7D","#00BFC4","#00B0F6","#9590FF","#E76BF3","#FF62BC"]},
       "legend": {"title": "Toxicants", "orient": "none", "legendX": 995, "legendY": -68, "symbolType": "M-1,-0.075H1V0.075H-1Z M0.17,0A0.17,0.17 0 1,1 -0.17,0A0.17,0.17 0 1,1 0.17,0Z", "symbolSize": 2809, "symbolOffset": 6, "symbolStrokeWidth": 0, "symbolOpacity": 1, "labelFontSize": 38, "labelColor": "#000000", "titleFontSize": 39, "titleFontWeight": "normal", "titleColor": "#000000", "rowPadding": 13, "titlePadding": 20, "labelOffset": 26, "labelLimit": 600, "padding": 0}}
    }
   },
   {
    "data": {"name": "ell_a"},
    "mark": {"type": "line", "interpolate": "cardinal-closed", "strokeWidth": 3.5},
    "encoding": {
     "x": {"field": "x", "type": "quantitative", "scale": {"domain": [-4.39, 4.41], "nice": false, "zero": false}, "axis": null},
     "y": {"field": "y", "type": "quantitative", "scale": {"domain": [-2.69, 2.70], "nice": false, "zero": false}},
     "color": {"field": "g", "type": "nominal",
       "scale": {"domain": ["Chromium C1","Chromium C2","Chromium C3","DCMU C1","DCMU C2","DCMU C3","DCMU C4","Glyphosate C1","Glyphosate C2","Glyphosate C3"], "range": ["#F8766D","#D89000","#A3A500","#39B600","#00BF7D","#00BFC4","#00B0F6","#9590FF","#E76BF3","#FF62BC"]}},
     "order": {"field": "i", "type": "quantitative"}
    }
   },
   {
    "data": {"name": "arr_a"},
    "transform": [{"calculate": "-atan(datum.y / datum.x) * 180 / PI", "as": "ta"}],
    "mark": {"type": "text", "color": "#8B0000", "fontSize": 26, "align": "center", "baseline": "middle"},
    "encoding": {
     "x": {"field": "lx", "type": "quantitative", "scale": {"domain": [-4.39, 4.41], "nice": false, "zero": false},
       "axis": {"orient": "top", "title": "Time point 24 h", "labels": false, "grid": false, "ticks": false, "domain": false, "titleX": 57, "titleY": -32, "titleAlign": "left", "titleBaseline": "alphabetic", "titleAngle": 0, "titleFontSize": 39.5, "titleFontWeight": "normal", "titleColor": "#000000"}},
     "y": {"field": "ly", "type": "quantitative", "scale": {"domain": [-2.69, 2.70], "nice": false, "zero": false}},
     "text": {"field": "v", "type": "nominal"},
     "angle": {"field": "ta", "type": "quantitative", "scale": null}
    }
   }
  ]
 },
 {
  "width": 955, "height": 574,
  "title": {"text": "b", "offset": -79},
  "resolve": {"axis": {"x": "independent"}},
  "layer": [
   {
    "data": {"name": "circ_b"},
    "mark": {"type": "line", "interpolate": "cardinal-closed", "color": "#D6C0C6", "strokeWidth": 3},
    "encoding": {
     "x": {"field": "x", "type": "quantitative", "scale": {"domain": [-5.60, 8.12], "nice": false, "zero": false},
       "axis": {"title": "PC1 (48.5% explained var.)", "values": [-5,-3.75,-2.5,-1.25,0,1.25,2.5,3.75,5,6.25,7.5], "labelExpr": "datum.value % 2.5 === 0 ? (datum.value < 0 ? '-' + format(abs(datum.value), '.1f') : format(datum.value, '.1f')) : ''", "gridWidth": {"condition": {"test": "datum.value % 2.5 === 0", "value": 3.2}, "value": 2}}},
     "y": {"field": "y", "type": "quantitative", "scale": {"domain": [-2.865, 5.38], "nice": false, "zero": false},
       "axis": {"title": "PC2 (32.5% explained var.)", "titlePadding": 10, "values": [-2.5,-1.25,0,1.25,2.5,3.75,5], "labelExpr": "datum.value % 2.5 === 0 ? (datum.value < 0 ? '-' + format(abs(datum.value), '.1f') : format(datum.value, '.1f')) : ''", "gridWidth": {"condition": {"test": "datum.value % 2.5 === 0", "value": 3.2}, "value": 2}}},
     "order": {"field": "i", "type": "quantitative"}
    }
   },
   {
    "data": {"name": "arr_b"},
    "mark": {"type": "rule", "color": "#832424", "strokeWidth": 3.5},
    "encoding": {
     "x": {"field": "x", "type": "quantitative", "scale": {"domain": [-5.60, 8.12], "nice": false, "zero": false}, "axis": null},
     "y": {"field": "y", "type": "quantitative", "scale": {"domain": [-2.865, 5.38], "nice": false, "zero": false}},
     "x2": {"datum": 0},
     "y2": {"datum": 0}
    }
   },
   {
    "data": {"name": "arr_b"},
    "transform": [{"calculate": "atan2(datum.x, datum.y) * 180 / PI", "as": "ha"}],
    "mark": {"type": "point", "shape": "M-0.5,0.866L0,0L0.5,0.866", "filled": false, "size": 1936, "stroke": "#832424", "strokeWidth": 3.5, "opacity": 1},
    "encoding": {
     "x": {"field": "x", "type": "quantitative", "scale": {"domain": [-5.60, 8.12], "nice": false, "zero": false}, "axis": null},
     "y": {"field": "y", "type": "quantitative", "scale": {"domain": [-2.865, 5.38], "nice": false, "zero": false}},
     "angle": {"field": "ha", "type": "quantitative", "scale": null}
    }
   },
   {
    "data": {"name": "pts_b"},
    "mark": {"type": "point", "filled": true, "size": 62, "opacity": 1, "strokeWidth": 0},
    "encoding": {
     "x": {"field": "x", "type": "quantitative", "scale": {"domain": [-5.60, 8.12], "nice": false, "zero": false}, "axis": null},
     "y": {"field": "y", "type": "quantitative", "scale": {"domain": [-2.865, 5.38], "nice": false, "zero": false}},
     "color": {"field": "g", "type": "nominal",
       "scale": {"domain": ["Chromium C1","Chromium C2","Chromium C3","Chromium C4","Chromium C5","DCMU C1","DCMU C2","DCMU C3","Glyphosate C1","Glyphosate C2","Glyphosate C3"], "range": ["#F8766D","#DB8E00","#AEA200","#64B200","#00BD5C","#00C1A7","#00BADE","#00A6FF","#B385FF","#EF67EB","#FF63B6"]},
       "legend": {"title": "Toxicants", "orient": "none", "legendX": 1019, "legendY": -102, "symbolType": "M-1,-0.075H1V0.075H-1Z M0.17,0A0.17,0.17 0 1,1 -0.17,0A0.17,0.17 0 1,1 0.17,0Z", "symbolSize": 2809, "symbolOffset": 7, "symbolStrokeWidth": 0, "symbolOpacity": 1, "labelFontSize": 38, "labelColor": "#000000", "titleFontSize": 39, "titleFontWeight": "normal", "titleColor": "#000000", "rowPadding": 13, "titlePadding": 20, "labelOffset": 26, "labelLimit": 600, "padding": 0}}
    }
   },
   {
    "data": {"name": "ell_b"},
    "mark": {"type": "line", "interpolate": "cardinal-closed", "strokeWidth": 3.5},
    "encoding": {
     "x": {"field": "x", "type": "quantitative", "scale": {"domain": [-5.60, 8.12], "nice": false, "zero": false}, "axis": null},
     "y": {"field": "y", "type": "quantitative", "scale": {"domain": [-2.865, 5.38], "nice": false, "zero": false}},
     "color": {"field": "g", "type": "nominal",
       "scale": {"domain": ["Chromium C1","Chromium C2","Chromium C3","Chromium C4","Chromium C5","DCMU C1","DCMU C2","DCMU C3","Glyphosate C1","Glyphosate C2","Glyphosate C3"], "range": ["#F8766D","#DB8E00","#AEA200","#64B200","#00BD5C","#00C1A7","#00BADE","#00A6FF","#B385FF","#EF67EB","#FF63B6"]}},
     "order": {"field": "i", "type": "quantitative"}
    }
   },
   {
    "data": {"name": "arr_b"},
    "transform": [{"calculate": "-atan(datum.y / datum.x) * 180 / PI", "as": "ta"}],
    "mark": {"type": "text", "color": "#8B0000", "fontSize": 34, "align": "center", "baseline": "middle"},
    "encoding": {
     "x": {"field": "lx", "type": "quantitative", "scale": {"domain": [-5.60, 8.12], "nice": false, "zero": false},
       "axis": {"orient": "top", "title": "Time point 72 h", "labels": false, "grid": false, "ticks": false, "domain": false, "titleX": 57, "titleY": -32, "titleAlign": "left", "titleBaseline": "alphabetic", "titleAngle": 0, "titleFontSize": 39.5, "titleFontWeight": "normal", "titleColor": "#000000"}},
     "y": {"field": "ly", "type": "quantitative", "scale": {"domain": [-2.865, 5.38], "nice": false, "zero": false}},
     "text": {"field": "v", "type": "nominal"},
     "angle": {"field": "ta", "type": "quantitative", "scale": null}
    }
   }
  ]
 }
]
}
